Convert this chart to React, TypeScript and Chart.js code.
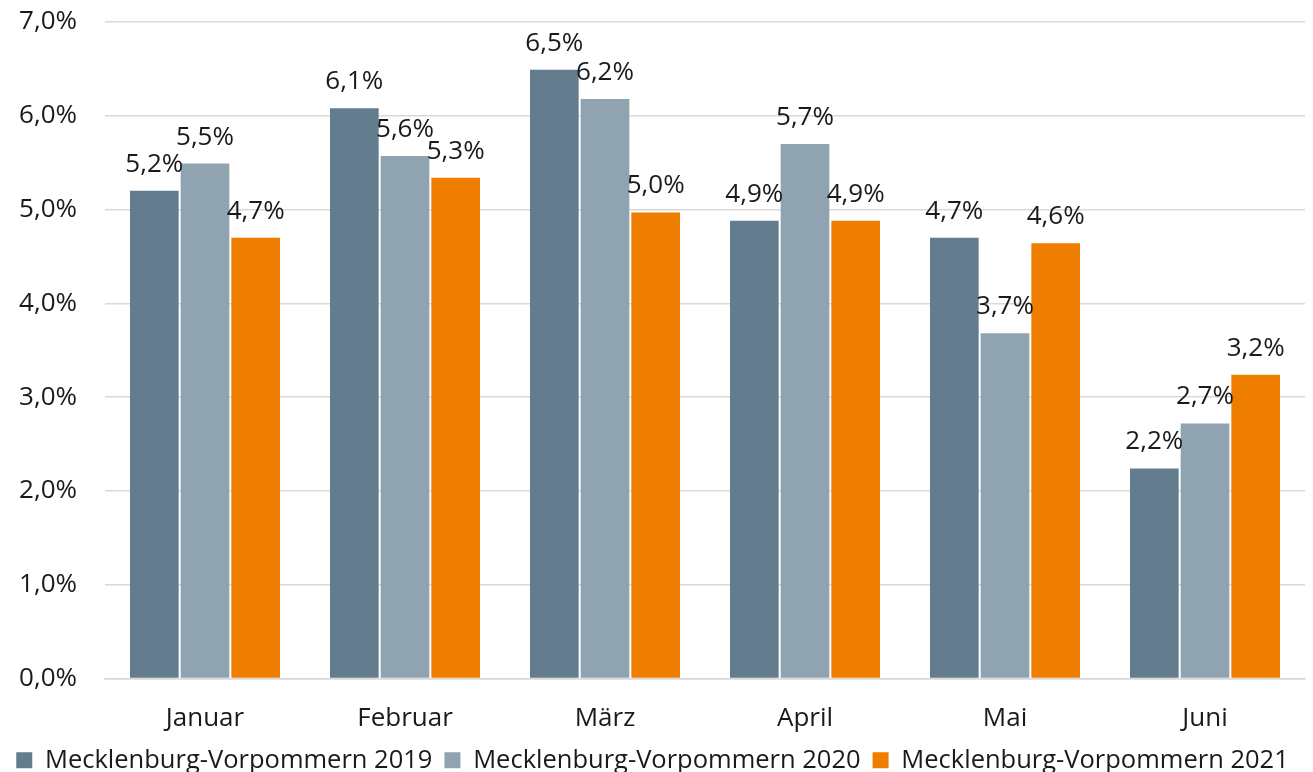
import React, { useEffect, useRef } from "react";
import { Chart, registerables } from "chart.js";

Chart.register(...registerables);

const categories = ["Januar", "Februar", "März", "April", "Mai", "Juni"];
const seriesNames = [
  "Mecklenburg-Vorpommern 2019",
  "Mecklenburg-Vorpommern 2020",
  "Mecklenburg-Vorpommern 2021",
];
const values2019 = [5.2, 6.08, 6.49, 4.88, 4.7, 2.24];
const values2020 = [5.49, 5.57, 6.18, 5.7, 3.68, 2.72];
const values2021 = [4.7, 5.34, 4.97, 4.88, 4.64, 3.24];
const colors = ["#637C8E", "#8FA4B0", "#EF7D00"];
const yTicks = [0, 1, 2, 3, 4, 5, 6, 7];

const FONT = "'Open Sans', sans-serif";
const FS = 26;
const fmt = (v: number) => v.toFixed(1).replace(".", ",") + "%";

const labelPlugin = {
  id: "barLabels",
  beforeLayout(chart: any) {
    const lg = chart.legend;
    if (lg && !lg._patched) {
      const orig = lg.fit.bind(lg);
      lg.fit = function () {
        orig();
        this.height -= 11;
      };
      lg._patched = true;
    }
  },
  afterDatasetsDraw(chart: any) {
    const ctx = chart.ctx;
    ctx.save();
    ctx.font = `${FS}px ${FONT}`;
    ctx.fillStyle = "#1a1a1a";
    ctx.textAlign = "center";
    ctx.textBaseline = "alphabetic";
    chart.data.datasets.forEach((ds: any, i: number) => {
      const meta = chart.getDatasetMeta(i);
      meta.data.forEach((bar: any, j: number) => {
        ctx.fillText(fmt(ds.data[j]), bar.x, bar.y - 19);
      });
    });
    ctx.restore();
  },
};

export default function App() {
  const ref = useRef<HTMLCanvasElement>(null);
  useEffect(() => {
    if (!ref.current) return;
    const chart = new Chart(ref.current, {
      type: "bar",
      data: {
        labels: categories,
        datasets: [values2019, values2020, values2021].map((d, i) => ({
          label: seriesNames[i],
          data: d,
          backgroundColor: colors[i],
          categoryPercentage: 0.76,
          barPercentage: 0.96,
        })),
      },
      options: {
        animation: false,
        responsive: false,
        layout: { padding: { top: 22, right: 8, left: 0, bottom: 0 } },
        plugins: {
          tooltip: { enabled: false },
          legend: {
            position: "bottom",
            labels: {
              font: { family: FONT, size: 25.5 },
              color: "#1a1a1a",
              boxWidth: 16,
              boxHeight: 16,
              padding: 12,
            },
          },
        },
        scales: {
          x: {
            grid: { display: false },
            border: { color: "#D9D9D9", width: 1.5 },
            afterFit: (s: any) => {
              s.height = 57;
            },
            ticks: { font: { family: FONT, size: FS }, color: "#1a1a1a", padding: 16 },
          },
          y: {
            min: 0,
            max: 7,
            afterBuildTicks: (s: any) => {
              s.ticks = yTicks.map((v) => ({ value: v }));
            },
            afterFit: (s: any) => {
              s.width = 105;
              s.paddingTop = 0;
              s.paddingBottom = 0;
            },
            grid: { color: "#D9D9D9", lineWidth: 1.5, drawTicks: false },
            border: { display: false },
            ticks: {
              font: { family: FONT, size: FS },
              color: "#1a1a1a",
              padding: 28,
              callback: (v: any) => fmt(Number(v)),
            },
          },
        },
      },
      plugins: [labelPlugin],
    });
    return () => chart.destroy();
  }, []);
  return (
    <div style={{ position: "fixed", left: 0, top: 0, width: 1313, height: 772, background: "#fff" }}>
      <canvas ref={ref} width={1313} height={772} />
    </div>
  );
}
